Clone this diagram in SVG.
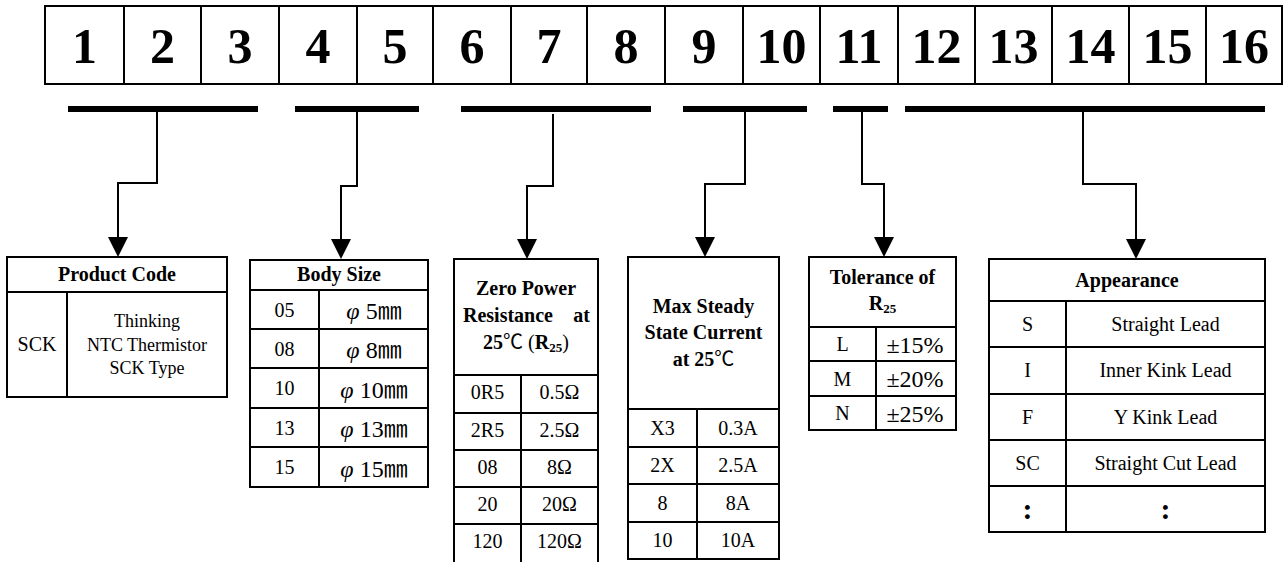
<svg xmlns="http://www.w3.org/2000/svg" width="1284" height="562" viewBox="0 0 1284 562">
<style>
text{font-family:"Liberation Serif","Noto Sans CJK SC",serif;fill:#000;text-anchor:middle}
.num{font-size:50px;font-weight:bold}
.h{font-size:20px;font-weight:bold}
.t{font-size:20px}
.s{font-size:18px}
.b{font-size:24px}
.phi{font-style:italic}
.box{fill:#fff;stroke:#000;stroke-width:2}
.ln{stroke:#000;stroke-width:2;fill:none}
.bar{fill:#000}
.cn{stroke:#000;stroke-width:2;fill:none;marker-end:url(#arr)}
.cjk{font-family:"Noto Sans CJK SC",sans-serif;font-weight:normal}
</style>
<defs>
<marker id="arr" viewBox="0 0 20 20" refX="0" refY="10" markerWidth="20" markerHeight="20" markerUnits="userSpaceOnUse" orient="auto">
<path d="M0,0 L20,10 L0,20 Z" fill="#000"/>
</marker>
</defs>
<rect width="1284" height="562" fill="#fff"/>

<g id="code-strip">
<rect class="box" x="45" y="6" width="1237" height="78"/>
<path class="ln" d="M124,6V84M201,6V84M279,6V84M357,6V84M433,6V84M511,6V84M587,6V84M665,6V84M743,6V84M820,6V84M898,6V84M975,6V84M1052,6V84M1129,6V84M1206,6V84"/>
<text class="num" x="84.5" y="63">1</text>
<text class="num" x="162.5" y="63">2</text>
<text class="num" x="240" y="63">3</text>
<text class="num" x="318" y="63">4</text>
<text class="num" x="395" y="63">5</text>
<text class="num" x="472" y="63">6</text>
<text class="num" x="549" y="63">7</text>
<text class="num" x="626" y="63">8</text>
<text class="num" x="704" y="63">9</text>
<text class="num" x="781.5" y="63">10</text>
<text class="num" x="859" y="63">11</text>
<text class="num" x="936.5" y="63">12</text>
<text class="num" x="1013.5" y="63">13</text>
<text class="num" x="1090.5" y="63">14</text>
<text class="num" x="1167.5" y="63">15</text>
<text class="num" x="1244" y="63">16</text>
</g>

<g id="brackets">
<rect class="bar" x="68" y="106" width="190" height="6"/>
<rect class="bar" x="295" y="106" width="124" height="6"/>
<rect class="bar" x="461" y="106" width="190" height="6"/>
<rect class="bar" x="683" y="106" width="124" height="6"/>
<rect class="bar" x="833" y="106" width="55" height="6"/>
<rect class="bar" x="905" y="106" width="360" height="6"/>
</g>

<g id="connectors">
<path class="cn" d="M157,112V183H118V237"/>
<path class="cn" d="M357,112V186H341V239"/>
<path class="cn" d="M553,114V186H527V239"/>
<path class="cn" d="M745,112V184H705V237"/>
<path class="cn" d="M862,112V184H884V237"/>
<path class="cn" d="M1083,112V184H1136V239"/>
</g>

<g id="product-code">
<rect class="box" x="7" y="257" width="220" height="140"/>
<path class="ln" d="M7,292H227M67,292V397"/>
<text class="h" x="117" y="281">Product Code</text>
<text class="t" x="37" y="351">SCK</text>
<text class="s" x="147" y="327">Thinking</text>
<text class="s" x="147" y="350.5">NTC Thermistor</text>
<text class="s" x="147" y="374">SCK Type</text>
</g>

<g id="body-size">
<rect class="box" x="250" y="260" width="178" height="227"/>
<path class="ln" d="M250,290H428M250,329H428M250,368H428M250,408H428M250,447H428M319,290V487"/>
<text class="h" x="339" y="281">Body Size</text>
<text class="t" x="284.5" y="316.5">05</text>
<text class="t" x="284.5" y="355.5">08</text>
<text class="t" x="284.5" y="395">10</text>
<text class="t" x="284.5" y="434.5">13</text>
<text class="t" x="284.5" y="474">15</text>
<text class="b" x="374" y="319"><tspan class="phi">φ</tspan> 5<tspan class="cjk">㎜</tspan></text>
<text class="b" x="374" y="358"><tspan class="phi">φ</tspan> 8<tspan class="cjk">㎜</tspan></text>
<text class="b" x="374" y="397.5"><tspan class="phi">φ</tspan> 10<tspan class="cjk">㎜</tspan></text>
<text class="b" x="374" y="437"><tspan class="phi">φ</tspan> 13<tspan class="cjk">㎜</tspan></text>
<text class="b" x="374" y="476.5"><tspan class="phi">φ</tspan> 15<tspan class="cjk">㎜</tspan></text>
</g>

<g id="zero-power-resistance">
<path class="ln" d="M454,564V259H598V564M454,375H598M454,413H598M454,450H598M454,487H598M454,524H598M521,375V564"/>
<text class="h" x="526" y="295">Zero Power</text>
<text class="h" x="463" y="321.5" style="text-anchor:start">Resistance</text>
<text class="h" x="590" y="321.5" style="text-anchor:end">at</text>
<text class="t" x="526" y="349"><tspan font-weight="bold">25</tspan><tspan class="cjk">℃</tspan> (<tspan font-weight="bold">R</tspan><tspan font-weight="bold" font-size="13" dy="3">25</tspan><tspan dy="-3">)</tspan></text>
<text class="t" x="487.5" y="399">0R5</text>
<text class="t" x="487.5" y="436.5">2R5</text>
<text class="t" x="487.5" y="473.5">08</text>
<text class="t" x="487.5" y="510.5">20</text>
<text class="t" x="487.5" y="547.5">120</text>
<text class="t" x="559.5" y="399">0.5Ω</text>
<text class="t" x="559.5" y="436.5">2.5Ω</text>
<text class="t" x="559.5" y="473.5">8Ω</text>
<text class="t" x="559.5" y="510.5">20Ω</text>
<text class="t" x="559.5" y="547.5">120Ω</text>
</g>

<g id="max-steady-current">
<rect class="box" x="628" y="257" width="151" height="302"/>
<path class="ln" d="M628,409H779M628,447H779M628,484H779M628,522H779M697,409V559"/>
<text class="h" x="703.5" y="313">Max Steady</text>
<text class="h" x="703.5" y="339">State Current</text>
<text class="h" x="703.5" y="366">at 25<tspan class="cjk">℃</tspan></text>
<text class="t" x="662.5" y="434.5">X3</text>
<text class="t" x="662.5" y="472">2X</text>
<text class="t" x="662.5" y="509.5">8</text>
<text class="t" x="662.5" y="547">10</text>
<text class="t" x="738" y="434.5">0.3A</text>
<text class="t" x="738" y="472">2.5A</text>
<text class="t" x="738" y="509.5">8A</text>
<text class="t" x="738" y="547">10A</text>
</g>

<g id="tolerance">
<rect class="box" x="809" y="257" width="147" height="173"/>
<path class="ln" d="M809,327H956M809,361H956M809,396H956M876,327V430"/>
<text class="h" x="882.5" y="284">Tolerance of</text>
<text class="h" x="882.5" y="310">R<tspan font-size="13" dy="3">25</tspan></text>
<text class="t" x="842.5" y="351">L</text>
<text class="t" x="842.5" y="385.5">M</text>
<text class="t" x="842.5" y="420">N</text>
<text class="b" x="915" y="352.5">±15%</text>
<text class="b" x="915" y="387">±20%</text>
<text class="b" x="915" y="421.5">±25%</text>
</g>

<g id="appearance">
<rect class="box" x="989" y="259" width="276" height="273"/>
<path class="ln" d="M989,301H1265M989,347H1265M989,394H1265M989,440H1265M989,486H1265M1066,301V532"/>
<text class="h" x="1127" y="287">Appearance</text>
<text class="t" x="1027.5" y="330.5">S</text>
<text class="t" x="1027.5" y="377">I</text>
<text class="t" x="1027.5" y="423.5">F</text>
<text class="t" x="1027.5" y="469.5">SC</text>
<text class="t" x="1165.5" y="330.5">Straight Lead</text>
<text class="t" x="1165.5" y="377">Inner Kink Lead</text>
<text class="t" x="1165.5" y="423.5">Y Kink Lead</text>
<text class="t" x="1165.5" y="469.5">Straight Cut Lead</text>
<text class="h" x="1027.5" y="519" style="font-size:30px">:</text>
<text class="h" x="1165.5" y="519" style="font-size:30px">:</text>
</g>
</svg>
